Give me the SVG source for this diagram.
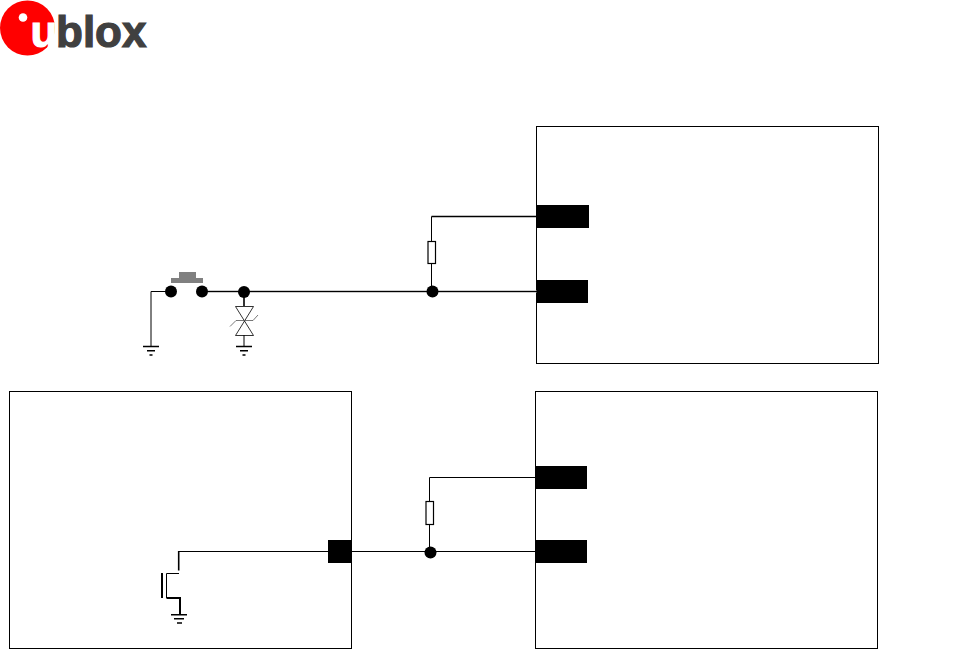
<svg xmlns="http://www.w3.org/2000/svg" width="956" height="654" viewBox="0 0 956 654">
<style>
.box{fill:#fff;stroke:#000;stroke-width:1}
.pad{fill:#000;stroke:none}
.w{fill:none;stroke:#000;stroke-width:1}
.w2{fill:none;stroke:#000;stroke-width:1.6}
.dot{fill:#000}
.res{fill:#fff;stroke:#000;stroke-width:1.2}
.sw{fill:#808080}
.logo{font-family:"Liberation Sans",Arial,sans-serif;font-weight:700;font-size:44px;stroke-width:1.2px}
</style>
<rect width="956" height="654" fill="#fff"/>
<g id="logo">
<circle cx="27.500" cy="28" r="27.500" fill="#f00"/>
<circle cx="23" cy="17.500" r="4.300" fill="#fff"/>
<text class="logo" x="30.500" y="47" fill="#fff" stroke="#fff">u</text>
<text class="logo" x="56" y="47" fill="#404040" stroke="#404040">blox</text>
</g>
<g id="box-top-right"><rect class="box" x="536.500" y="126.500" width="342" height="237"/></g>
<g id="box-bottom-left"><rect class="box" x="9.500" y="391.500" width="342" height="257"/></g>
<g id="box-bottom-right"><rect class="box" x="535.500" y="391.500" width="342" height="257"/></g>
<g id="connectors">
<path d="M202 291.500H537" stroke="#999" stroke-width="2" fill="none"/>
<path class="w" d="M202 291.500H537"/>
<path class="w2" d="M431.500 216.500H537"/>
<path class="w" d="M431.500 216.500V291"/>
<path class="w" d="M151 346V291.500H171"/>
<path class="w2" d="M244 291V306"/>
<path class="w" d="M244 335V346"/>
<path class="w" d="M178 551.500H328"/>
<path class="w" d="M352 551.500H536"/>
<path class="w" d="M429.500 551V477.500H536"/>
</g>
<g id="pad-1"><rect class="pad" x="537" y="205" width="52" height="23"/></g>
<g id="pad-2"><rect class="pad" x="537" y="280" width="51" height="23"/></g>
<g id="pad-3"><rect class="pad" x="536" y="466" width="51" height="23"/></g>
<g id="pad-4"><rect class="pad" x="536" y="540" width="51" height="23"/></g>
<g id="pad-5"><rect class="pad" x="328" y="540" width="23.500" height="23"/></g>
<g id="resistor-top"><rect class="res" x="428" y="241.500" width="7.500" height="22"/></g>
<g id="resistor-bottom"><rect class="res" x="426" y="501.500" width="7.500" height="23"/></g>
<g id="junction-top"><circle class="dot" cx="432.500" cy="291.500" r="6"/></g>
<g id="junction-bottom"><circle class="dot" cx="430.500" cy="552.500" r="6"/></g>
<g id="junction-switch"><circle class="dot" cx="244" cy="292" r="6"/></g>
<g id="switch">
<circle class="dot" cx="171" cy="291.500" r="6"/>
<circle class="dot" cx="202" cy="291.500" r="6"/>
<rect class="sw" x="171" y="278" width="32" height="5"/>
<rect class="sw" x="179" y="272" width="17" height="6"/>
</g>
<g id="tvs-diode">
<path d="M235.500 306.500H253.500L235.500 335.500H253.500Z" fill="none" stroke="#000" stroke-width="0.800"/>
<path d="M230 326.500L236 320.500H253L258 315" fill="none" stroke="#555" stroke-width="0.800"/>
</g>
<g id="ground-1"><path class="w2" d="M143 346.500H159M147 350.700H155M149.500 355H152.500"/></g>
<g id="ground-2"><path class="w2" d="M236 346.500H252M240 350.700H248M242.500 355H245.500"/></g>
<g id="mosfet">
<path class="w2" d="M178.700 551V570.500"/>
<path d="M162 573V598" fill="none" stroke="#000" stroke-width="2"/>
<path class="w" d="M166.500 598V573.500H179"/>
<path d="M166.500 598H180V615" fill="none" stroke="#000" stroke-width="2"/>
</g>
<g id="ground-3"><path class="w2" d="M171 614.800H187M174 618.800H184M177 623H182"/></g>
</svg>
